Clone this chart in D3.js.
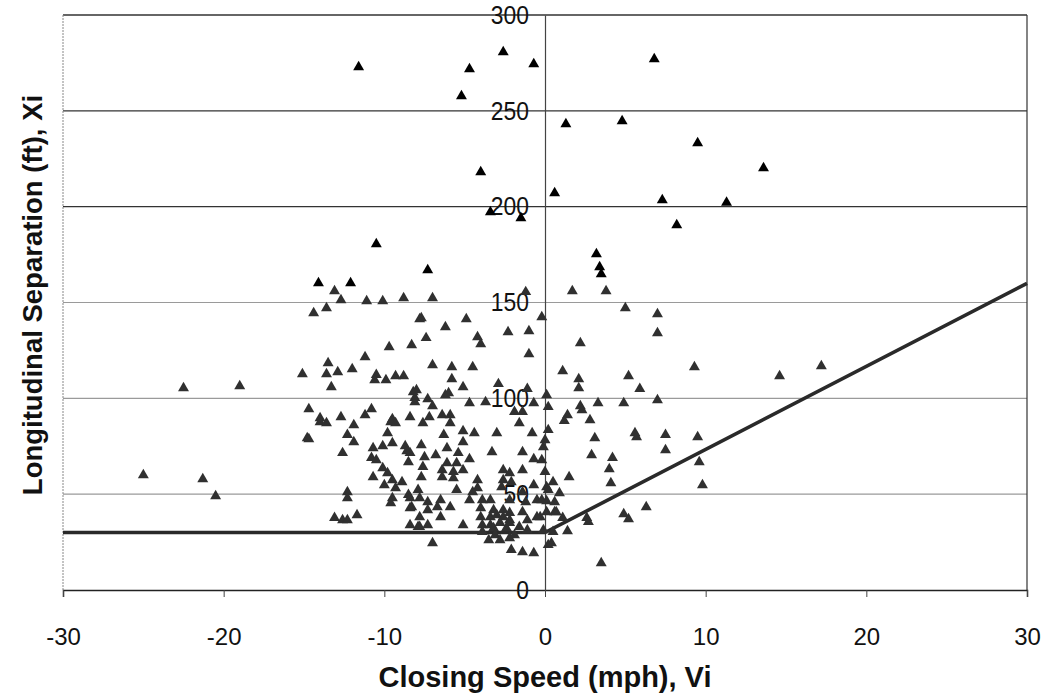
<!DOCTYPE html>
<html>
<head>
<meta charset="utf-8">
<script src="https://cdn.jsdelivr.net/npm/d3@7"></script>
<style>
  html, body { margin: 0; padding: 0; background: #fff; }
  svg { display: block; }
</style>
</head>
<body>
<div id="chart"></div>
<script>
// closing speed (mph) and longitudinal separation (ft) of each observed event
const speedMph = [
  -11.6, -2.6, -4.7, -0.7, -5.2, 6.8, 1.3, 4.8, 9.5, -4.0, 0.6, 7.3, -3.4, -1.5, 8.2, -10.5, 13.6, 11.3, 3.2, 3.4, 3.5,
  14.6, 17.2, -22.5, -19.0, -25.0, -21.3, -20.5,
  1.7, 3.8, 5.0, 7.0, 7.0, 2.2, 9.3, 1.1, 5.2, 2.1, 2.1, 5.9, 0.1, 7.0, 0.2, 2.2, 3.3, 4.9, 1.4, 2.8, -0.2,
  2.3, 1.2, 0.2, 0.0, -0.1, -0.2, 3.1, 2.9, 4.2, 4.0, 4.1, 5.6, 5.7, 7.5, 7.5, 9.5, 9.6, 9.8, 1.5, 0.5, 0.2, 0.9,
  0.1, 0.6, 1.1, 1.4, 2.6, 2.7, 4.9, 5.2, 6.3, -0.3, 0.4, 3.5, 0.2,
  -14.1, -12.1, -13.1, -12.7, -11.1, -10.1, -8.8, -13.6, -14.4, -7.8, -9.7, -8.3, -11.2, -13.5, -13.6, -12.9, -12.0,
  -15.1, -13.3, -10.5, -10.6, -9.9, -9.3, -8.8, -8.2, -8.1, -14.7, -10.8, -11.2, -14.0, -12.7, -9.5, -8.4, -14.8,
  -7.3, -7.0, -1.2, -7.7, -4.9, -6.2, -7.4, -4.2, -4.0, -2.3, -1.0, -1.0, -7.0, -5.8, -4.5, -5.8, -5.1, -2.9, -1.1,
  -8.0, -6.2, -6.0, -8.1, -7.3, -7.0, -4.7, -3.7, -0.7, -1.9, -1.4, -6.4, -5.9, -7.2,
  -14.0, -13.6, -11.9, -12.3, -11.9, -14.7, -12.6, -9.6, -9.3, -9.8, -9.5, -10.7, -10.1, -8.7, -8.6, -10.8, -10.5,
  -8.5, -10.1, -9.8, -10.7, -9.5, -8.9, -10.0, -9.3, -12.3, -12.3, -9.5, -9.6, -8.5, -8.3, -13.1, -12.6, -11.7, -7.9,
  -12.3,
  -5.9, -7.6, -5.1, -4.4, -3.0, -1.6, -0.8, -6.3, -5.1, -7.7, -6.1, -5.4, -3.3, -1.4, -8.4, -7.5, -6.8, -4.7, -0.7,
  -7.6, -6.1, -5.5, -6.4, -5.7, -5.1, -2.6, -2.2, -1.4, 0.0, -7.7, -6.4, -5.7, -4.2, -2.6, -2.1, -4.2, -2.7, -0.7,
  0.1, -7.9, -5.5, -4.5, -1.4, -8.4, -7.8, -7.3, -6.5, -5.9, -4.7, -3.9, -3.4, -2.2, -1.2, -0.5, -0.2, 0.6,
  -8.4, -7.3, -6.7, -4.0, -3.2, -2.6, -2.2, -1.4, -0.5, 0.1, 0.7, -7.8, -6.5, -4.0, -3.4, -3.0, -2.6, -2.2, -1.1,
  -8.4, -7.3, -5.1, -3.9, -3.4, -2.8, -2.2, -1.6, -7.8, -3.9, -3.2, -2.4, -1.1, -0.1, 0.5, -7.0, -2.2, -2.1, -1.4,
  -0.7, -3.1, -2.8, -1.9, -3.5
];
const separationFt = [
  272.8, 280.6, 271.8, 274.4, 257.7, 277, 243.1, 244.7, 233.2, 218, 207.1, 203.4, 197.2, 194.1, 190.4, 180.5, 220.1, 202.1, 175.3, 168.5, 164.8,
  111.6, 116.8, 105.4, 106.4, 60, 57.9, 49,
  156, 156, 147.1, 144, 134.1, 128.8, 116.3, 114.2, 111.6, 110.1, 105.4, 104.9, 101.7, 99.1, 95.5, 96, 97.5, 97.5, 91.3, 88.7, 142.4,
  93.9, 88.2, 83.5, 78.2, 74.6, 67.8, 79.3, 70.4, 68.9, 63.1, 55.8, 81.9, 79.8, 80.9, 73, 79.8, 66.8, 54.8, 58.9, 56.3, 52.2, 50.6,
  46.4, 40.7, 37.6, 30.8, 37.6, 35.5, 39.6, 37, 43.3, 38.1, 24.5, 14.1, 23.5,
  160.1, 160.1, 156, 151.3, 150.8, 150.8, 152.3, 147.1, 144.5, 141.4, 126.8, 127.8, 121.5, 118.4, 112.7, 113.7, 115.3,
  112.7, 105.9, 112.2, 109.5, 109.5, 111.6, 111.6, 103.3, 98.1, 94.4, 94.4, 91.3, 89.7, 90.2, 89.2, 90.2, 79.3,
  166.9, 152.3, 155.5, 141.9, 141.4, 137.2, 131.5, 132, 128.3, 134.6, 135.1, 123.1, 117.4, 116.3, 116.3, 110.1, 105.9, 107.5, 104.9,
  104.3, 101.7, 102.8, 100.2, 99.6, 96, 97.5, 98.1, 97.5, 92.9, 92.9, 91.3, 91.3, 90.2,
  87.6, 87.1, 86.1, 80.9, 77.2, 78.8, 71.5, 87.6, 87.1, 81.9, 76.7, 74.1, 75.1, 75.1, 72.5, 68.9, 67.8,
  66.8, 63.6, 61, 58.9, 57.4, 56.3, 54.8, 53.2, 51.1, 48, 48, 45.4, 49.6, 43.3, 37.6, 36.5, 39.1, 32.9,
  36.5,
  87.1, 87.1, 82.9, 81.9, 81.9, 87.1, 81.9, 80.9, 77.2, 75.6, 74.1, 71.5, 72, 72, 71.5, 69.4, 70.4, 68.3, 68.3,
  64.2, 66.2, 66.2, 62.6, 61.6, 62.6, 62.6, 61, 62.6, 61.6, 58.9, 58.9, 58.4, 57.4, 57.4, 56.3, 53.2, 53.7, 54.8,
  53.7, 52.2, 52.2, 51.1, 51.1, 48, 48, 45.9, 46.9, 43.3, 46.9, 46.9, 46.9, 46.9, 45.9, 46.9, 46.9, 45.9,
  42.8, 41.7, 43.3, 42.8, 41.7, 41.7, 40.2, 40.7, 38.1, 40.7, 40.7, 38.1, 38.1, 38.1, 38.1, 39.1, 38.1, 36.5, 36.5,
  33.9, 33.9, 33.9, 33.9, 33.9, 35, 35, 32.9, 32.9, 30.3, 32.3, 32.3, 31.3, 31.3, 30.3, 24.5, 27.1, 20.9, 19.8,
  19.3, 28.7, 26.1, 28.7, 26.1
];
// criterion line: flat below zero closing speed, rising above it
const lineSpeed = [-30, 0, 30];
const lineSep = [30, 30, 160];

const xTicks = [-30, -20, -10, 0, 10, 20, 30];
const yTicks = [0, 50, 100, 150, 200, 250, 300];

const W = 1050, H = 694;
const plotLeft = 63, plotRight = 1027, plotTop = 15, plotBottom = 590;

const svg = d3.select("#chart").append("svg")
  .attr("width", W).attr("height", H);

const x = d3.scaleLinear().domain([-30, 30]).range([plotLeft, plotRight]);
const y = d3.scaleLinear().domain([0, 300]).range([plotBottom, plotTop]);

const sans = "'Liberation Sans', Arial, sans-serif";

// horizontal gridlines; upper ones are darker in the scan
svg.append("g").selectAll("line")
  .data(yTicks.filter(t => t > 0))
  .join("line")
  .attr("x1", plotLeft).attr("x2", plotRight)
  .attr("y1", d => y(d)).attr("y2", d => y(d))
  .attr("stroke", d => d >= 200 ? "#333" : "#9a9a9a")
  .attr("stroke-width", d => d >= 200 ? 1.3 : 1.2);

// frame
svg.append("line").attr("x1", plotLeft).attr("x2", plotLeft).attr("y1", plotTop).attr("y2", plotBottom)
  .attr("stroke", "#888").attr("stroke-width", 1).attr("stroke-dasharray", "2,1");
svg.append("line").attr("x1", plotRight).attr("x2", plotRight).attr("y1", plotTop).attr("y2", plotBottom)
  .attr("stroke", "#333").attr("stroke-width", 1.2);

// x axis along the bottom
const xAxis = svg.append("g")
  .attr("transform", `translate(0,${plotBottom})`)
  .call(d3.axisBottom(x).tickValues(xTicks).tickSize(7).tickFormat(d => String(d)));
xAxis.select(".domain").attr("stroke", "#222").attr("stroke-width", 1.5);
xAxis.selectAll(".tick line").attr("stroke", "#444");
xAxis.selectAll(".tick text")
  .attr("y", 38)
  .attr("font-family", sans).attr("font-size", 24).attr("fill", "#111");

// y axis through zero closing speed
const yAxis = svg.append("g")
  .attr("transform", `translate(${x(0)},0)`)
  .call(d3.axisLeft(y).tickValues(yTicks).tickSize(0).tickPadding(16));
yAxis.select(".domain").attr("stroke", "#444").attr("stroke-width", 1.2);
yAxis.selectAll(".tick text")
  .attr("font-family", sans).attr("font-size", 26).attr("fill", "#111")
  .each(function () {
    // labels in the scan are a little condensed
    const w = this.getComputedTextLength();
    d3.select(this).attr("textLength", w * 0.88).attr("lengthAdjust", "spacingAndGlyphs");
  });

// criterion line
svg.append("path")
  .datum(lineSpeed.map((v, i) => [v, lineSep[i]]))
  .attr("fill", "none")
  .attr("stroke", "#2a2a2a")
  .attr("stroke-width", 3.6)
  .attr("d", d3.line().x(d => x(d[0])).y(d => y(d[1])));

// observations
const tri = d3.symbol().type(d3.symbolTriangle).size(52);
svg.append("g").selectAll("path")
  .data(speedMph.map((v, i) => ({ v, s: separationFt[i] })))
  .join("path")
  .attr("d", tri)
  .attr("transform", d => `translate(${x(d.v)},${y(d.s)})`)
  .attr("fill", d => d.s > 160 ? "#000" : "#303030");

// axis titles
svg.append("text")
  .attr("x", x(0)).attr("y", 687)
  .attr("text-anchor", "middle")
  .attr("font-family", sans)
  .attr("font-weight", "bold").attr("font-size", 29).attr("fill", "#111")
  .text("Closing Speed (mph), Vi");

svg.append("text")
  .attr("transform", "translate(42,295) rotate(-90)")
  .attr("text-anchor", "middle")
  .attr("font-family", sans)
  .attr("font-weight", "bold").attr("font-size", 27.5).attr("fill", "#111")
  .text("Longitudinal Separation (ft), Xi");
</script>
</body>
</html>
